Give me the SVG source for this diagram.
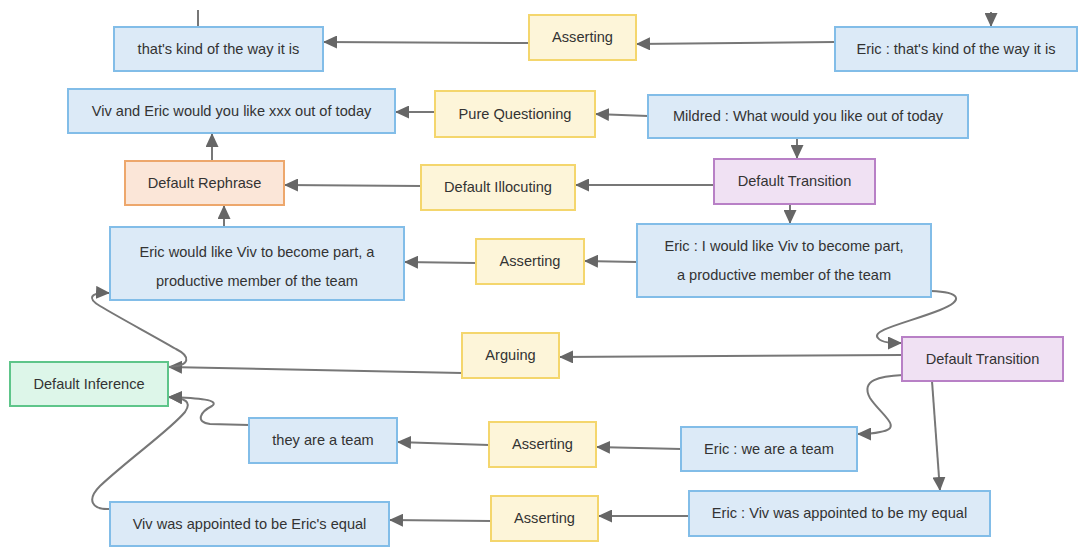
<svg xmlns="http://www.w3.org/2000/svg" width="1079" height="547" viewBox="0 0 1079 547">
  <defs>
    <marker id="arrow" markerUnits="userSpaceOnUse" markerWidth="15" markerHeight="13" refX="14" refY="6.5" orient="auto">
      <path d="M0,0 L14,6.5 L0,13 z" fill="#666"/>
    </marker>
    <style>
      .node rect { stroke-width: 2; }
      .i rect { fill: #dceaf7; stroke: #82bde8; }
      .ya rect { fill: #fdf5d9; stroke: #f4d66d; }
      .ma rect { fill: #fbe6d8; stroke: #eda76c; }
      .ta rect { fill: #f0e1f3; stroke: #b880c6; }
      .ra rect { fill: #ddf6e9; stroke: #5ec58a; }
      .node text { font-family: "Liberation Sans", Arial, sans-serif; font-size: 14.6px; fill: #333; text-anchor: middle; dominant-baseline: central; }
      .edges path { fill: none; stroke: #777; stroke-width: 2; marker-end: url(#arrow); }
      .edges path.plain { marker-end: none; }
    </style>
  </defs>

  <g class="edges" id="connectors">
    <path class="plain" d="M198,10 L198,27"/>
    <path d="M991,12 L991,27"/>
    <path d="M835,42 L636,44"/>
    <path d="M529,43 L323,42"/>
    <path d="M648,116 L595,114"/>
    <path d="M435,112 L395,112"/>
    <path d="M797,138 L797,159"/>
    <path d="M714,185 L575,185"/>
    <path d="M421,186 L284,185"/>
    <path d="M212,161 L212,133"/>
    <path d="M224,227 L224,205"/>
    <path d="M790,204 L790,224"/>
    <path d="M637,262 L584,261"/>
    <path d="M476,263 L404,262"/>
    <path d="M931,291 C960,292 965,300 940,310 C910,322 870,330 878,338 C882,343 892,343 902,343"/>
    <path d="M902,355 L559,357"/>
    <path d="M462,373 L168,367"/>
    <path d="M168,367 C192,366 190,356 176,349 C150,334 120,318 100,306 C88,299 88,292 110,293"/>
    <path d="M903,375 C880,376 860,380 870,398 C880,414 905,428 880,432 C872,434 865,434 857,434"/>
    <path d="M932,381 L940,491"/>
    <path d="M681,449 L596,447"/>
    <path d="M489,445 L397,442"/>
    <path d="M249,425 L210,424 C195,422 200,412 212,406 C220,400 200,398 168,397"/>
    <path d="M689,516 L598,516"/>
    <path d="M491,521 L389,520"/>
    <path d="M110,509 C92,510 86,500 100,486 C130,458 170,430 185,412 C192,402 186,398 168,397"/>
  </g>

  <g id="n1" class="node i"><rect x="114" y="27" width="209" height="44"/><text x="218.5" y="49">that's kind of the way it is</text></g>
  <g id="n2" class="node ya"><rect x="529" y="15" width="107" height="45"/><text x="582.5" y="37">Asserting</text></g>
  <g id="n3" class="node i"><rect x="835" y="27" width="242" height="44"/><text x="956" y="49">Eric : that's kind of the way it is</text></g>

  <g id="n4" class="node i"><rect x="68" y="89" width="327" height="44"/><text x="231.5" y="111">Viv and Eric would you like xxx out of today</text></g>
  <g id="n5" class="node ya"><rect x="435" y="91" width="160" height="46"/><text x="515" y="114">Pure Questioning</text></g>
  <g id="n6" class="node i"><rect x="648" y="95" width="320" height="43"/><text x="808" y="116">Mildred : What would you like out of today</text></g>

  <g id="n7" class="node ma"><rect x="125" y="161" width="159" height="44"/><text x="204.5" y="183">Default Rephrase</text></g>
  <g id="n8" class="node ya"><rect x="421" y="165" width="154" height="45"/><text x="498" y="187">Default Illocuting</text></g>
  <g id="n9" class="node ta"><rect x="714" y="159" width="161" height="45"/><text x="794.5" y="181">Default Transition</text></g>

  <g id="n10" class="node i"><rect x="110" y="227" width="294" height="73"/><text x="257" y="252">Eric would like Viv to become part, a</text><text x="257" y="281">productive member of the team</text></g>
  <g id="n11" class="node ya"><rect x="476" y="239" width="108" height="45"/><text x="530" y="261">Asserting</text></g>
  <g id="n12" class="node i"><rect x="637" y="224" width="294" height="73"/><text x="784" y="246">Eric : I would like Viv to become part,</text><text x="784" y="275">a productive member of the team</text></g>

  <g id="n13" class="node ya"><rect x="462" y="333" width="97" height="45"/><text x="510.5" y="355">Arguing</text></g>
  <g id="n14" class="node ta"><rect x="902" y="337" width="161" height="44"/><text x="982.5" y="359">Default Transition</text></g>
  <g id="n15" class="node ra"><rect x="10" y="362" width="158" height="44"/><text x="89" y="384">Default Inference</text></g>

  <g id="n16" class="node i"><rect x="249" y="418" width="148" height="45"/><text x="323" y="440">they are a team</text></g>
  <g id="n17" class="node ya"><rect x="489" y="422" width="107" height="45"/><text x="542.5" y="444">Asserting</text></g>
  <g id="n18" class="node i"><rect x="681" y="427" width="176" height="44"/><text x="769" y="449">Eric : we are a team</text></g>

  <g id="n19" class="node ya"><rect x="491" y="496" width="107" height="45"/><text x="544.5" y="518">Asserting</text></g>
  <g id="n20" class="node i"><rect x="110" y="502" width="279" height="44"/><text x="249.5" y="524">Viv was appointed to be Eric's equal</text></g>
  <g id="n21" class="node i"><rect x="689" y="491" width="301" height="45"/><text x="839.5" y="513">Eric : Viv was appointed to be my equal</text></g>
</svg>
